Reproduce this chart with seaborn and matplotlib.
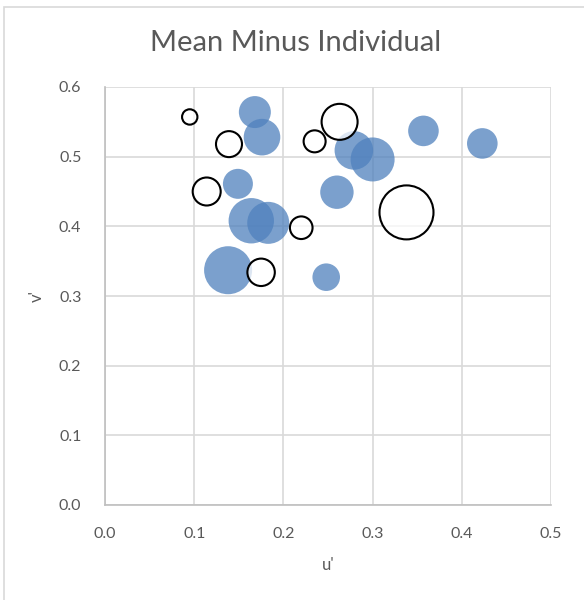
import matplotlib
matplotlib.use("Agg")
import matplotlib.pyplot as plt
import matplotlib.patches as mpatches
import seaborn as sns
import pandas as pd

# Data
blue_u = [0.168, 0.176, 0.149, 0.164, 0.183, 0.138, 0.248, 0.279, 0.300, 0.260, 0.357, 0.423]
blue_v = [0.564, 0.528, 0.461, 0.408, 0.405, 0.337, 0.327, 0.509, 0.496, 0.449, 0.537, 0.519]
blue_size = [256, 335, 225, 515, 441, 576, 190, 372, 484, 279, 234, 234]

open_u = [0.095, 0.139, 0.114, 0.220, 0.175, 0.235, 0.263, 0.338]
open_v = [0.557, 0.518, 0.450, 0.398, 0.334, 0.522, 0.550, 0.420]
open_size = [59, 169, 196, 128, 188, 121, 324, 729]

x_ticks = [0.0, 0.1, 0.2, 0.3, 0.4, 0.5]
y_ticks = [0.0, 0.1, 0.2, 0.3, 0.4, 0.5, 0.6]

title = "Mean Minus Individual"
x_label = "u'"
y_label = "v'"

sns.set_style("white")
plt.rcParams["font.family"] = ["Lato", "DejaVu Sans"]

DPI = 100
fig = plt.figure(figsize=(5.84, 6.00), dpi=DPI)
ax = fig.add_axes([105 / 584, 95 / 600, 446 / 584, 418 / 600])

size_max = max(max(blue_size), max(open_size))
k = (2 * 0.72) ** 2  # px radius^2 -> pt^2 area

df_b = pd.DataFrame({"u": blue_u, "v": blue_v, "s": blue_size})
df_o = pd.DataFrame({"u": open_u, "v": open_v, "s": open_size})

sns.scatterplot(data=df_b, x="u", y="v", size="s", sizes=(0, size_max * k),
                size_norm=(0, size_max), legend=False, ax=ax,
                color="#4F81BD", alpha=0.75, linewidth=0, zorder=3)
sns.scatterplot(data=df_o, x="u", y="v", size="s", sizes=(0, size_max * k),
                size_norm=(0, size_max), legend=False, ax=ax,
                color="white", linewidth=1.5, zorder=4)
coll = ax.collections[-1]
coll.set_facecolor((1, 1, 1, 0.75))
coll.set_edgecolor("black")
coll.set_linewidth(1.5)

ax.set_xlim(0, 0.5)
ax.set_ylim(0, 0.6)
ax.set_xticks(x_ticks)
ax.set_yticks(y_ticks)
ax.set_xticklabels([f"{t:.1f}" for t in x_ticks])
ax.set_yticklabels([f"{t:.1f}" for t in y_ticks])
ax.tick_params(axis="both", length=0, labelsize=11.5, colors="#595959")
ax.tick_params(axis="x", pad=16)
ax.tick_params(axis="y", pad=17)
ax.grid(True, color="#d9d9d9", linewidth=1.2, zorder=0)
ax.set_axisbelow(True)
for side in ["top", "right"]:
    ax.spines[side].set_visible(False)
for side in ["left", "bottom"]:
    ax.spines[side].set_color("#bfbfbf")
    ax.spines[side].set_linewidth(1.2)

ax.set_xlabel(x_label, fontsize=12, color="#595959", labelpad=11)
ax.set_ylabel(y_label, fontsize=12, color="#595959", labelpad=10)

fig.text(296 / 584, 1 - 43 / 600, title, fontsize=21, color="#595959",
         ha="center", va="center")

fig.patches.append(mpatches.Rectangle((4 / 584, -0.1), 2, 1 - 7 / 600 + 0.1,
                                      transform=fig.transFigure, fill=False,
                                      edgecolor="#d9d9d9", linewidth=1.2))

fig.savefig("out.png", dpi=DPI)
